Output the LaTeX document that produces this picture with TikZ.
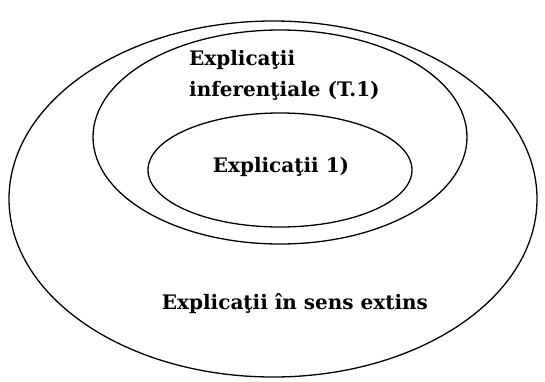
\documentclass[tikz,border=0pt]{standalone}
\usepackage{fontspec}
\setmainfont{DejaVu Serif}
\begin{document}
\begin{tikzpicture}[x=1pt,y=-1pt,
  ring/.style={draw, line width=1.3pt},
  lbl/.style={font=\bfseries\fontsize{20}{31}\selectfont, inner sep=0pt}]
\useasboundingbox (0,0) rectangle (545,381);
\draw[ring] (273,199) ellipse [x radius=264, y radius=178];
\draw[ring] (280,137) ellipse [x radius=187, y radius=107];
\draw[ring] (280,170) ellipse [x radius=132, y radius=57];
\node[lbl, anchor=west, align=left] (mid) at (189,75) {Explicaţii\\inferenţiale (T.1)};
\node[lbl] (inner) at (281,167) {Explicaţii 1)};
\node[lbl] (outer) at (295,304) {Explicaţii în sens extins};
\end{tikzpicture}
\end{document}
